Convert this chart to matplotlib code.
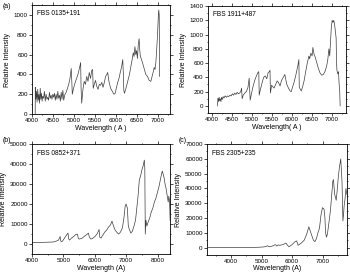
import matplotlib
matplotlib.use("Agg")
import matplotlib.pyplot as plt
from matplotlib.ticker import MultipleLocator, AutoMinorLocator

plt.rcParams['font.family'] = ['Liberation Sans', 'DejaVu Sans']

# ---- data ----
wl_a = [4080, 4082, 4095, 4110, 4125, 4140, 4155, 4170, 4185, 4200, 4215, 4230, 4245, 4260,
        4280, 4300, 4320, 4340, 4360, 4380, 4400, 4420, 4440, 4460, 4480, 4500, 4520, 4540,
        4560, 4580, 4600, 4620, 4640, 4660, 4680, 4700, 4720, 4740, 4760, 4790, 4820, 4850,
        4880, 4910, 4940, 4955, 4965, 4990, 5020, 5060, 5100, 5140, 5165, 5175, 5190, 5220,
        5250, 5280, 5310, 5340, 5370, 5400, 5430, 5450, 5465, 5490, 5520, 5550, 5580, 5610,
        5640, 5670, 5700, 5730, 5760, 5790, 5810, 5840, 5880, 5920, 5960, 5990, 6020, 6050,
        6080, 6110, 6140, 6170, 6185, 6195, 6210, 6240, 6270, 6300, 6330, 6360, 6390, 6420,
        6440, 6460, 6480, 6500, 6520, 6540, 6560, 6575, 6590, 6610, 6640, 6680, 6720, 6760,
        6800, 6840, 6870, 6900, 6920, 6940, 6960, 6980, 7000, 7010, 7020, 7030, 7040, 7050]
iv_a = [0, 270, 150, 230, 120, 250, 140, 200, 110, 260, 150, 210, 130, 180,
        160, 230, 130, 200, 150, 170, 140, 220, 160, 190, 150, 200, 170, 210,
        140, 200, 150, 230, 160, 190, 130, 220, 150, 240, 140, 200, 220, 260,
        300, 360, 460, 320, 200, 250, 300, 350, 400, 470, 520, 260, 110, 250,
        330, 300, 380, 330, 420, 360, 440, 450, 260, 300, 340, 280, 250, 300,
        290, 320, 270, 320, 380, 400, 420, 330, 260, 230, 200, 210, 270, 320,
        360, 420, 470, 550, 400, 240, 210, 250, 300, 350, 400, 470, 540, 620,
        580, 680, 600, 640, 560, 700, 760, 650, 580, 560, 520, 460, 400, 380,
        340, 330, 380, 430, 470, 450, 520, 650, 800, 900, 1000, 1050, 1000, 380]

wl_a2 = [4140, 4150, 4165, 4180, 4195, 4210, 4225, 4240, 4260, 4280, 4300, 4330, 4360,
         4390, 4420, 4450, 4480, 4510, 4540, 4570, 4600, 4630, 4660, 4690, 4720, 4740,
         4755, 4780, 4820, 4860, 4900, 4930, 4945, 4955, 4990, 5030, 5070, 5110, 5150,
         5170, 5180, 5210, 5250, 5290, 5330, 5370, 5400, 5430, 5450, 5460, 5490, 5520,
         5550, 5590, 5630, 5660, 5700, 5740, 5780, 5820, 5840, 5870, 5910, 5950, 5980,
         6010, 6050, 6090, 6120, 6150, 6170, 6180, 6200, 6230, 6260, 6300, 6340, 6380,
         6420, 6440, 6470, 6500, 6520, 6550, 6580, 6620, 6660, 6700, 6740, 6780, 6820,
         6860, 6890, 6920, 6940, 6960, 6980, 7000, 7020, 7040, 7060, 7080, 7100, 7110,
         7120, 7140, 7160, 7175, 7190, 7200]
iv_a2 = [0, 110, 60, 120, 70, 100, 60, 120, 90, 130, 110, 140, 120,
         140, 130, 150, 140, 170, 150, 180, 160, 190, 170, 180, 200, 250,
         100, 150, 180, 200, 260, 390, 200, 80, 180, 280, 360, 420, 470,
         480, 150, 230, 320, 400, 420, 380, 460, 480, 500, 180, 290, 270,
         250, 300, 350, 330, 280, 360, 400, 440, 380, 300, 250, 210, 200,
         260, 330, 420, 500, 580, 650, 260, 240, 210, 260, 350, 480, 600,
         700, 660, 740, 700, 820, 720, 680, 600, 520, 460, 430, 440, 480,
         550, 640, 800, 700, 900, 1100, 1200, 1170, 1200, 1150, 1050, 950, 600,
         500, 450, 480, 300, 200, 0]

wl_b = [4000, 4200, 4400, 4600, 4700, 4780, 4850, 4900, 4920, 4960, 5020, 5080, 5150, 5175,
        5200, 5260, 5330, 5400, 5450, 5480, 5520, 5600, 5680, 5750, 5800, 5830, 5880, 5950,
        6020, 6080, 6140, 6160, 6200, 6260, 6320, 6380, 6440, 6500, 6550, 6600, 6650, 6700,
        6760, 6820, 6880, 6930, 6970, 7000, 7040, 7070, 7100, 7150, 7200, 7250, 7300, 7340,
        7380, 7420, 7460, 7500, 7540, 7580, 7595, 7610, 7630, 7660, 7700, 7750, 7800, 7850,
        7900, 7950, 8000, 8050, 8100, 8150, 8180, 8210, 8240, 8270, 8300, 8320, 8340, 8360,
        8380, 8390, 8400]
iv_b = [700, 800, 900, 1000, 1100, 1500, 2000, 3800, 1500, 1200, 2500, 4000, 5500, 2500,
        2000, 3000, 3800, 4800, 5000, 2800, 2500, 3000, 4000, 4800, 5500, 3500, 2500, 3000,
        4000, 5200, 7300, 3500, 3000, 4500, 6000, 7000, 8500, 9500, 11500, 9000, 7000, 6000,
        5000, 6000, 8000, 13000, 19000, 20000, 18000, 9000, 7500, 5500, 6500, 9000, 12000, 18000,
        24000, 32000, 34000, 37000, 39000, 42000, 38000, 5000, 12000, 9000, 11000, 13000, 16000, 18000,
        21000, 23000, 26000, 29000, 33000, 36500, 35000, 33000, 30000, 28000, 25000, 23000, 21000, 24000,
        22000, 18000, 12000]

wl_c = [3250, 3600, 3800, 4000, 4200, 4400, 4600, 4800, 5000, 5100, 5200, 5250, 5350, 5450, 5500,
        5550, 5600, 5700, 5800, 5850, 5900, 6000, 6100, 6150, 6200, 6300, 6400, 6480, 6550,
        6600, 6650, 6700, 6750, 6800, 6850, 6900, 6950, 7000, 7050, 7080, 7100, 7130, 7160,
        7200, 7260, 7300, 7340, 7360, 7400, 7450, 7480, 7520, 7560, 7600, 7640, 7670, 7690,
        7710, 7740, 7770, 7800]
iv_c = [0, 0, 0, 0, 0, 0, 0, 100, 300, 500, 1200, 500, 1000, 2000, 1000,
        1800, 1500, 2000, 3000, 1500, 500, 2000, 4000, 4500, 1500, 3000, 5000, 9000, 14000,
        11000, 8000, 5000, 4000, 6000, 10000, 13000, 22000, 27000, 26000, 20000, 10000, 7000, 9000,
        15000, 25000, 35000, 45000, 46000, 36000, 32000, 38000, 48000, 55000, 60000, 45000, 18000, 22000,
        28000, 33000, 40000, 36000]

names = ['FBS 0135+191', 'FBS 1911+487', 'FBS 0852+371', 'FBS 2305+235']
xlabels = ['Wavelength ( A )', 'Wavelength( A )', 'Wavelength (A)', 'Wavelength (A)']

fig = plt.figure(figsize=(3.5, 2.75), dpi=100)
rects = [
    [0.091, 0.585, 0.395, 0.397],
    [0.594, 0.589, 0.395, 0.389],
    [0.091, 0.076, 0.395, 0.400],
    [0.591, 0.073, 0.400, 0.403],
]
series = [(wl_a, iv_a), (wl_a2, iv_a2), (wl_b, iv_b), (wl_c, iv_c)]
xlims = [(4000, 7300), (3900, 7350), (4000, 8400), (3200, 7800)]
ylims = [(0, 1100), (-100, 1400), (-5000, 50000), (-5000, 70000)]
xmaj = [500, 500, 1000, 1000]
ymaj = [200, 200, 10000, 10000]

for i in range(4):
    ax = fig.add_axes(rects[i])
    x, y = series[i]
    ax.plot(x, y, color='#3c3c3c', lw=0.5)
    ax.set_xlim(*xlims[i])
    ax.set_ylim(*ylims[i])
    ax.xaxis.set_major_locator(MultipleLocator(xmaj[i]))
    ax.yaxis.set_major_locator(MultipleLocator(ymaj[i]))
    ax.xaxis.set_minor_locator(AutoMinorLocator(2))
    ax.yaxis.set_minor_locator(AutoMinorLocator(2))
    ax.tick_params(which='both', labelsize=4.5, width=0.5, top=True, right=True,
                   direction='out', pad=1)
    ax.tick_params(which='major', length=2)
    ax.tick_params(which='minor', length=1)
    for s in ax.spines.values():
        s.set_linewidth(0.6)
    ax.set_xlabel(xlabels[i], fontsize=5, labelpad=1)
    ax.set_ylabel('Relative Intensity', fontsize=5, labelpad=2)
    ax.text(0.04, 0.95, names[i], transform=ax.transAxes, fontsize=4.7,
            va='top', ha='left')

fig.text(3 / 350, 1 - 7 / 275, '(a)', fontsize=5, va='center', ha='left')
fig.text(3 / 350, 1 - 141 / 275, '(b)', fontsize=5, va='center', ha='left')
fig.text(179 / 350, 1 - 141 / 275, '(c)', fontsize=5, va='center', ha='left')

fig.savefig('out.png', dpi=100)
